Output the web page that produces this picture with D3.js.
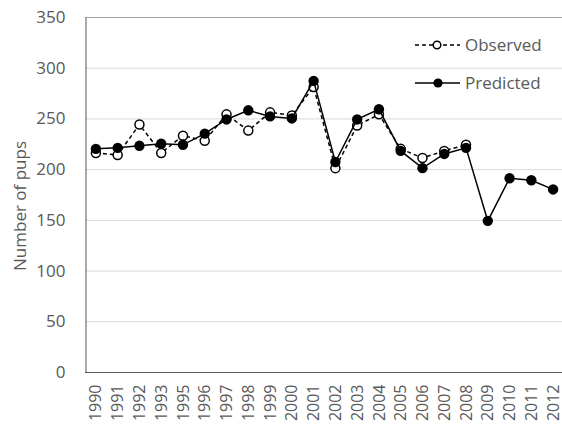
<!DOCTYPE html>
<html>
<head>
<meta charset="utf-8">
<script src="https://cdn.jsdelivr.net/npm/d3@7"></script>
<style>
  html, body { margin: 0; padding: 0; background: #fff; }
  svg { display: block; }
  text { font-family: "Open Sans", sans-serif; fill: #595959; }
</style>
</head>
<body>
<script>
const years = ["1990","1991","1992","1993","1995","1996","1997","1998","1999","2000","2001","2002","2003","2004","2005","2006","2007","2008","2009","2010","2011","2012"];
const observedYears = years.slice(0, 18);
const observed = [216, 214, 244, 216, 233, 228, 254, 238, 256, 253, 281, 201, 243, 254, 220, 211, 218, 224];
const predicted = [220, 221, 223, 225, 224, 235, 249, 258, 252, 250, 287, 207, 249, 259, 218, 201, 215, 221, 149, 191, 189, 180];
const yTicks = [0, 50, 100, 150, 200, 250, 300, 350];
const seriesNames = ["Observed", "Predicted"];
const yTitle = "Number of pups";

const W = 562, H = 428;
const svg = d3.select("body").append("svg").attr("width", W).attr("height", H);

const x = d3.scaleBand().domain(years).range([85, 564]).paddingInner(0).paddingOuter(0);
const cx = d => x(d) + x.bandwidth() / 2;
const y = d3.scaleLinear().domain([0, 350]).range([372, 17]);

// gridlines
svg.append("g").selectAll("line").data(yTicks.filter(t => t > 0)).join("line")
  .attr("x1", 85).attr("x2", 564)
  .attr("y1", d => y(d) + 0.5).attr("y2", d => y(d) + 0.5)
  .attr("stroke", d => d === 350 ? "#a6a6a6" : "#d9d9d9").attr("stroke-width", 1);

// y axis
const yAxis = d3.axisLeft(y).tickValues(yTicks).tickSize(0).tickPadding(20);
const gy = svg.append("g").attr("transform", "translate(85.5,0)").call(yAxis);
gy.select(".domain").attr("stroke", "#595959");
gy.selectAll("text").style("font-size", "17px").attr("fill", "#595959").style("font-family", "'Open Sans', sans-serif");

// x axis
const xAxis = d3.axisBottom(x).tickSize(0).tickPadding(0);
const gx = svg.append("g").attr("transform", "translate(0,372.5)").call(xAxis);
gx.select(".domain").attr("stroke", "#595959").attr("d", "M85,0H564");
gx.selectAll("text")
  .style("font-size", "16px").attr("fill", "#595959").style("font-family", "'Open Sans', sans-serif")
  .attr("text-anchor", "end")
  .attr("transform", "translate(0,12) rotate(-90)")
  .attr("x", 0).attr("y", 0).attr("dy", "0.35em");

// y title
svg.append("text")
  .attr("transform", "translate(20,206) rotate(-90)")
  .attr("text-anchor", "middle").attr("dy", "0.35em")
  .style("font-size", "17px")
  .text(yTitle);

const line = d3.line().x(d => cx(d[0])).y(d => y(d[1]));
const obsData = observedYears.map((d, i) => [d, observed[i]]);
const predData = years.map((d, i) => [d, predicted[i]]);

// observed
svg.append("path").datum(obsData).attr("d", line)
  .attr("fill", "none").attr("stroke", "#000").attr("stroke-width", 1.5).attr("stroke-dasharray", "4,3");
svg.append("g").selectAll("circle").data(obsData).join("circle")
  .attr("cx", d => cx(d[0])).attr("cy", d => y(d[1])).attr("r", 4.5)
  .attr("fill", "#fff").attr("stroke", "#000").attr("stroke-width", 1.5);

// predicted
svg.append("path").datum(predData).attr("d", line)
  .attr("fill", "none").attr("stroke", "#000").attr("stroke-width", 1.5);
svg.append("g").selectAll("circle").data(predData).join("circle")
  .attr("cx", d => cx(d[0])).attr("cy", d => y(d[1])).attr("r", 5.2)
  .attr("fill", "#000");

// legend
const leg = svg.append("g");
leg.append("line").attr("x1", 415).attr("x2", 460).attr("y1", 45).attr("y2", 45)
  .attr("stroke", "#000").attr("stroke-width", 1.5).attr("stroke-dasharray", "4,3");
leg.append("circle").attr("cx", 437).attr("cy", 45).attr("r", 3.8)
  .attr("fill", "#fff").attr("stroke", "#000").attr("stroke-width", 1.5);
leg.append("text").attr("x", 465).attr("y", 45).attr("dy", "0.35em").style("font-size", "17px").text(seriesNames[0]);
leg.append("line").attr("x1", 415).attr("x2", 460).attr("y1", 83).attr("y2", 83)
  .attr("stroke", "#000").attr("stroke-width", 1.5);
leg.append("circle").attr("cx", 438).attr("cy", 83).attr("r", 4.6).attr("fill", "#000");
leg.append("text").attr("x", 465).attr("y", 83).attr("dy", "0.35em").style("font-size", "17px").text(seriesNames[1]);
</script>
</body>
</html>
